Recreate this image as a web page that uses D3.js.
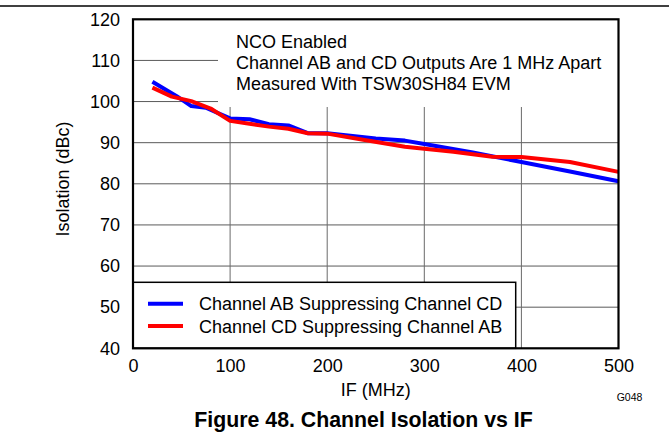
<!DOCTYPE html>
<html><head><meta charset="utf-8">
<script src="https://cdn.jsdelivr.net/npm/d3@7"></script>
<style>
html,body{margin:0;padding:0;background:#fff;}
svg{display:block;font-family:"Liberation Sans",Arial,sans-serif;}
</style></head>
<body>
<script>
const ifMHzAB = [20,45,60,75,100,120,140,160,180,200,250,280,300,350,400,450,500];
const isoAB   = [104.8,101.3,98.9,98.5,95.9,95.7,94.5,94.2,92.3,92.3,91.0,90.5,89.7,87.6,85.3,83.0,80.6];
const ifMHzCD = [20,40,60,80,100,120,140,160,180,200,240,280,300,330,370,400,450,500];
const isoCD   = [103.4,101.2,100.1,98.3,95.3,94.6,93.9,93.4,92.3,92.2,90.6,89.0,88.5,87.8,86.6,86.5,85.3,82.9];
const xTicks = [0,100,200,300,400,500];
const yTicks = [40,50,60,70,80,90,100,110,120];
const seriesNames = ["Channel AB Suppressing Channel CD","Channel CD Suppressing Channel AB"];
const seriesColors = ["#0000ff","#ff0000"];
const noteLines = ["NCO Enabled","Channel AB and CD Outputs Are 1 MHz Apart","Measured With TSW30SH84 EVM"];

const W=669,H=434;
const L=133,R=618.5,T=19.3,B=348.3;
const svg=d3.select("body").append("svg").attr("width",W).attr("height",H);
const x=d3.scaleLinear().domain([0,500]).range([L,R]);
const y=d3.scaleLinear().domain([40,120]).range([B,T]);

// header rule
svg.append("line").attr("x1",0).attr("x2",W).attr("y1",6).attr("y2",6).attr("stroke","#000").attr("stroke-width",1.5);

// grid
svg.append("g").selectAll("line").data(yTicks.slice(1,-1)).join("line")
  .attr("x1",L).attr("x2",R).attr("y1",d=>y(d)).attr("y2",d=>y(d))
  .attr("stroke","#5a5a5a").attr("stroke-width",1);
svg.append("g").selectAll("line").data(xTicks.slice(1,-1)).join("line")
  .attr("y1",T).attr("y2",B).attr("x1",d=>x(d)).attr("x2",d=>x(d))
  .attr("stroke","#6a6a6a").attr("stroke-width",1);

// annotation mask
svg.append("rect").attr("x",218).attr("y",T).attr("width",R-218).attr("height",107-T).attr("fill","#fff");
const note=svg.append("g").attr("font-size",18).attr("fill","#000");
note.selectAll("text").data(noteLines).join("text")
  .attr("x",236).attr("y",(d,i)=>48+i*21).text(d=>d);

// legend box
svg.append("rect").attr("x",L).attr("y",282.3).attr("width",515.7-L).attr("height",B-282.3)
  .attr("fill","#fff").attr("stroke","#000").attr("stroke-width",1.5);
const leg=svg.append("g");
seriesNames.forEach((n,i)=>{
  const yy=303.7+i*22.3;
  leg.append("line").attr("x1",148).attr("x2",183).attr("y1",yy).attr("y2",yy)
    .attr("stroke",seriesColors[i]).attr("stroke-width",4);
  leg.append("text").attr("x",199).attr("y",yy+6.5).attr("font-size",18).text(n);
});

// data lines
const line=d3.line().x(d=>x(d[0])).y(d=>y(d[1]));
svg.append("path").datum(ifMHzAB.map((v,i)=>[v,isoAB[i]])).attr("d",line)
  .attr("fill","none").attr("stroke",seriesColors[0]).attr("stroke-width",4).attr("stroke-linejoin","round");
svg.append("path").datum(ifMHzCD.map((v,i)=>[v,isoCD[i]])).attr("d",line)
  .attr("fill","none").attr("stroke",seriesColors[1]).attr("stroke-width",4).attr("stroke-linejoin","round");

// frame
svg.append("rect").attr("x",L).attr("y",T).attr("width",R-L).attr("height",B-T)
  .attr("fill","none").attr("stroke","#000").attr("stroke-width",2.2);

// axes labels
const ax=svg.append("g").attr("transform",`translate(0,${B})`)
  .call(d3.axisBottom(x).tickValues(xTicks).tickSize(0).tickPadding(11).tickFormat(d3.format("d")));
const ay=svg.append("g").attr("transform",`translate(${L},0)`)
  .call(d3.axisLeft(y).tickValues(yTicks).tickSize(0).tickPadding(13).tickFormat(d3.format("d")));
[ax,ay].forEach(g=>{g.select(".domain").remove();
  g.selectAll("text").attr("font-size",18).attr("font-family","Liberation Sans, Arial, sans-serif").attr("fill","#000");});

svg.append("text").attr("x",(L+R)/2).attr("y",396).attr("text-anchor","middle").attr("font-size",18).text("IF (MHz)");
svg.append("text").attr("transform","translate(69,179) rotate(-90)").attr("text-anchor","middle").attr("font-size",18).text("Isolation (dBc)");
svg.append("text").attr("x",616.7).attr("y",400.5).attr("font-size",10.5).text("G048");
svg.append("text").attr("x",194.3).attr("y",426.7).attr("font-size",21.3).attr("font-weight","bold").text("Figure 48. Channel Isolation vs IF");
</script>
</body></html>
